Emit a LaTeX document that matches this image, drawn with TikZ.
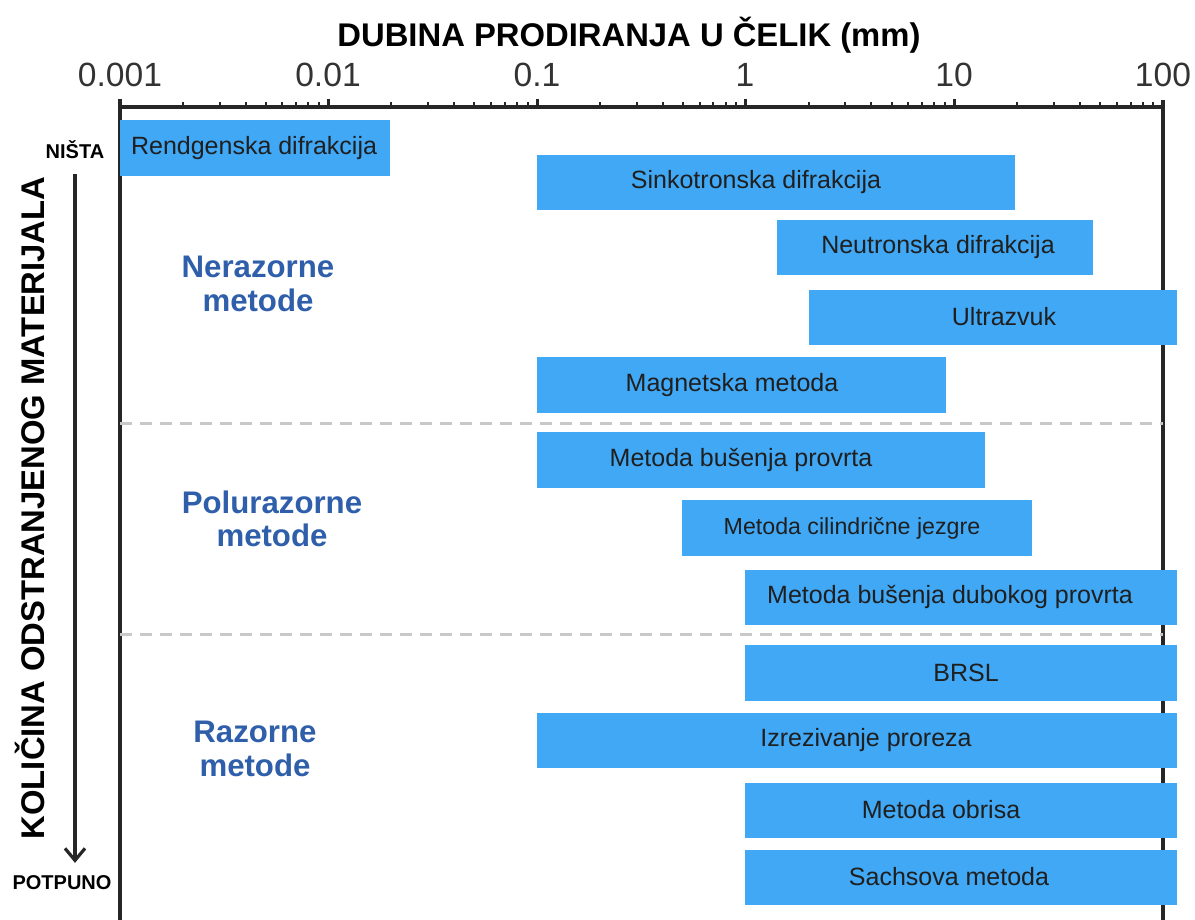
\documentclass[tikz,border=0pt]{standalone}
\usepackage{fontspec}
\setmainfont{Liberation Sans}
\usetikzlibrary{arrows.meta}
\definecolor{barblue}{RGB}{64,168,245}
\definecolor{groupblue}{RGB}{47,95,170}
\definecolor{dashgray}{RGB}{200,200,200}
\definecolor{tickgray}{RGB}{51,51,51}
\begin{document}
\begin{tikzpicture}[x=0.5pt,y=-0.5pt,
    barlabel/.style={font=\fontsize{12.5}{14}\selectfont, text=black!88},
    grouplabel/.style={font=\fontsize{15.6}{16.6}\selectfont\bfseries, text=groupblue, align=center},
    ticklabel/.style={font=\fontsize{16.8}{18}\selectfont, text=tickgray},
    endlabel/.style={font=\fontsize{10}{11}\selectfont\bfseries},
    axisline/.style={line width=1.6pt, black!85},
    sepline/.style={dashgray, line width=1.5pt, dash pattern=on 6pt off 4pt}]
    \useasboundingbox (0,0) rectangle (1195,920);

    % Title and scale
    \node[font=\fontsize{16.4}{18}\selectfont\bfseries] (title) at (629,35) {DUBINA PRODIRANJA U ČELIK (mm)};
    \node[ticklabel] (t0) at (120,75) {0.001};
    \node[ticklabel] (t1) at (328,75) {0.01};
    \node[ticklabel] (t2) at (537,75) {0.1};
    \node[ticklabel] (t3) at (745,75) {1};
    \node[ticklabel] (t4) at (954,75) {10};
    \node[ticklabel] (t5) at (1163,75) {100};

    % Frame
    \draw[axisline] (120,107) -- (1163,107);
    \draw[axisline] (120,100) -- (120,920);
    \draw[axisline] (1163,100) -- (1163,920);
    \foreach \d in {0,...,4} {
        \foreach \m in {2,...,9} {
            \pgfmathsetmacro{\tx}{120+208.6*(\d+log10(\m))}
            \draw[axisline, line width=1pt] (\tx,107) -- (\tx,102);
        }
        \draw[axisline] ({120+208.6*\d},107) -- ({120+208.6*\d},99);
    }

    % Group separators
    \draw[sepline] (120,423) -- (1163,423);
    \draw[sepline] (120,634) -- (1163,634);

    % Nerazorne metode
    \fill[barblue] (120,120) rectangle (390,176);
    \node[barlabel, anchor=west] (rtg) at (124,148) {Rendgenska difrakcija};
    \fill[barblue] (537,155) rectangle (1015,210);
    \node[barlabel] (sink) at (756,182) {Sinkotronska difrakcija};
    \fill[barblue] (777,220) rectangle (1093,275);
    \node[barlabel] (neut) at (938,247) {Neutronska difrakcija};
    \fill[barblue] (809,290) rectangle (1177,345);
    \node[barlabel] (ultra) at (1004,317) {Ultrazvuk};
    \fill[barblue] (537,357) rectangle (946,413);
    \node[barlabel] (magn) at (732,385) {Magnetska metoda};

    % Polurazorne metode
    \fill[barblue] (537,432) rectangle (985,488);
    \node[barlabel] (busenje) at (741,460) {Metoda bušenja provrta};
    \fill[barblue] (682,500) rectangle (1032,556);
    \node[barlabel, font=\fontsize{11.6}{13}\selectfont] (jezgra) at (852,528) {Metoda cilindrične jezgre};
    \fill[barblue] (745,570) rectangle (1177,625);
    \node[barlabel] (duboko) at (950,597) {Metoda bušenja dubokog provrta};

    % Razorne metode
    \fill[barblue] (745,645) rectangle (1177,701);
    \node[barlabel] (brsl) at (966,673) {BRSL};
    \fill[barblue] (537,713) rectangle (1177,768);
    \node[barlabel] (prorez) at (866,740) {Izrezivanje proreza};
    \fill[barblue] (745,783) rectangle (1177,838);
    \node[barlabel] (obris) at (941,810) {Metoda obrisa};
    \fill[barblue] (745,850) rectangle (1177,905);
    \node[barlabel] (sachs) at (949,877) {Sachsova metoda};

    % Group names
    \node[grouplabel] (nerazorne) at (258,284) {Nerazorne\\metode};
    \node[grouplabel] (polurazorne) at (272,519) {Polurazorne\\metode};
    \node[grouplabel] (razorne) at (255,749) {Razorne\\metode};

    % Left scale
    \node[rotate=90, font=\fontsize{16.4}{18}\selectfont\bfseries] (kolicina) at (30,508) {KOLIČINA ODSTRANJENOG MATERIJALA};
    \node[endlabel] (nista) at (75,150) {NIŠTA};
    \node[endlabel] (potpuno) at (62,883) {POTPUNO};
    \draw[line width=1.6pt, black!85, -{Straight Barb[length=6pt, width=10pt]}] ([yshift=-4pt]nista.south) -- ([yshift=3pt]nista.south |- potpuno.north);
\end{tikzpicture}
\end{document}
